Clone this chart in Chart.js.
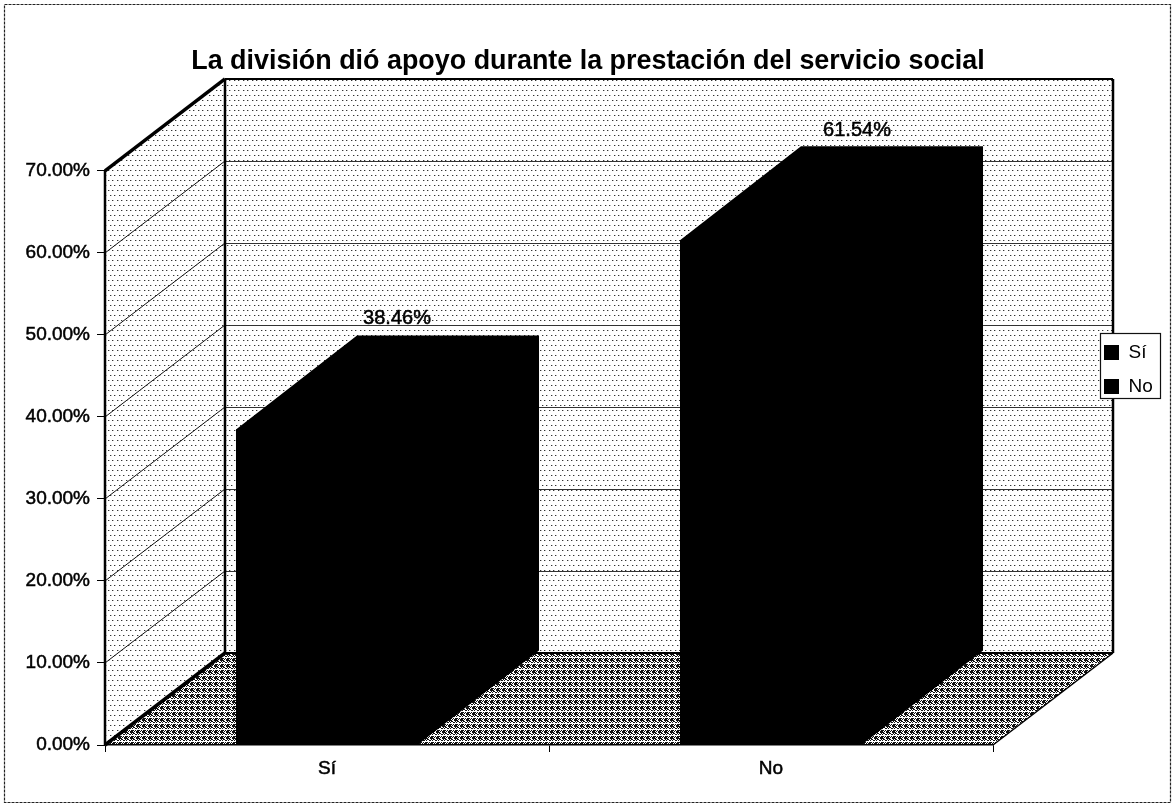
<!DOCTYPE html>
<html><head><meta charset="utf-8">
<style>html,body{margin:0;padding:0;background:#fff}#w{width:1173px;height:804px}</style>
<script src="https://cdn.jsdelivr.net/npm/chart.js@4"></script>
</head><body><div id="w"><canvas id="c" width="1173" height="804"></canvas></div>
<script>
const categories = ['Sí', 'No'];
const percentValues = [38.46, 61.54];
const chartTitle = 'La división dió apoyo durante la prestación del servicio social';
const FONT = '"Liberation Sans", Arial, sans-serif';
const wallDepth = {x: 120, y: -92};
const barDepth = {x: 121, y: -94};
const labelShift = [{x: 70, y: -111}, {x: 86, y: -110}];
const floorTile = ['XX..XX', '.XX..X', 'X..XX.', '......', 'XX.X.X', 'X.X.XX'];

function tile(w, h, draw) {
  const c = document.createElement('canvas'); c.width = w; c.height = h;
  draw(c.getContext('2d'));
  return c;
}
function poly(ctx, pts, fill, stroke, lw) {
  ctx.beginPath();
  pts.forEach((p, i) => i ? ctx.lineTo(p[0], p[1]) : ctx.moveTo(p[0], p[1]));
  ctx.closePath();
  if (fill) { ctx.fillStyle = fill; ctx.fill(); }
  if (stroke) { ctx.strokeStyle = stroke; ctx.lineWidth = lw; ctx.stroke(); }
}
function line(ctx, x1, y1, x2, y2, color, lw) {
  ctx.beginPath(); ctx.moveTo(x1, y1); ctx.lineTo(x2, y2);
  ctx.strokeStyle = color; ctx.lineWidth = lw; ctx.stroke();
}

const scene = {
  id: 'scene',
  afterLayout(chart) {
    const t = chart.titleBlock; t.left = 0; t.right = 1176;
    const l = chart.legend;
    l.left = 1089; l.right = 1161; l.top = 328; l.bottom = 560; l.width = 72; l.height = 232;
  },
  beforeDraw(chart) {
    const ctx = chart.ctx, a = chart.chartArea, y = chart.scales.y;
    const dx = wallDepth.x, dy = wallDepth.y;
    ctx.save();
    ctx.fillStyle = '#fff'; ctx.fillRect(0, 0, 1173, 804);
    const wall = ctx.createPattern(tile(9, 10, g => {
      g.fillStyle = '#fff'; g.fillRect(0, 0, 9, 10);
      g.fillStyle = '#333';
      [[0,0],[4,0],[2,5],[6,5]].forEach(p => g.fillRect(p[0], p[1], 1, 1));
      g.fillStyle = '#bbb';
      [[1,0],[5,0],[3,5],[7,5]].forEach(p => g.fillRect(p[0], p[1], 1, 1));
    }), 'repeat');
    const floor = ctx.createPattern(tile(6, 6, g => {
      g.fillStyle = '#fff'; g.fillRect(0, 0, 6, 6);
      g.fillStyle = '#111';
      floorTile.forEach((row, r) => [...row].forEach((ch, c) => { if (ch === 'X') g.fillRect(c, r, 1, 1); }));
    }), 'repeat');
    const L = a.left, R = a.right, T = a.top, B = a.bottom;
    poly(ctx, [[L+dx,T+dy],[R+dx,T+dy],[R+dx,B+dy],[L+dx,B+dy]], wall);
    poly(ctx, [[L,T],[L+dx,T+dy],[L+dx,B+dy],[L,B]], wall);
    poly(ctx, [[L,B],[L+dx,B+dy],[R+dx,B+dy],[R,B]], floor);
    y.ticks.forEach(tk => {
      const py = y.getPixelForValue(tk.value);
      line(ctx, L, py, L+dx, py+dy, '#111', 1);
      const gy = Math.round(py + dy) + 0.5;
      if (tk.value > 0 && tk.value < y.max) line(ctx, L+dx, gy, R+dx, gy, '#333', 1);
    });
    line(ctx, L, T, L+dx, T+dy, '#000', 3.5);
    line(ctx, L, B, L+dx, B+dy, '#000', 3.5);
    line(ctx, L, T, L, B, '#000', 2.5);
    line(ctx, L+dx, T+dy, L+dx, B+dy, '#000', 2.5);
    line(ctx, L+dx, T+dy, R+dx, T+dy, '#000', 2);
    line(ctx, R+dx, T+dy, R+dx, B+dy, '#000', 2.5);
    line(ctx, L+dx, B+dy, R+dx, B+dy, '#000', 2);
    line(ctx, R, B, R+dx, B+dy, '#000', 1.5);
    ctx.fillStyle = '#fff'; ctx.fillRect(1100, 333, 61, 66);
    ctx.strokeStyle = '#111'; ctx.lineWidth = 1.2; ctx.strokeRect(1100.5, 333.5, 60, 65);
    ctx.setLineDash([3, 1]); ctx.strokeStyle = '#222'; ctx.lineWidth = 1.2;
    ctx.strokeRect(4.5, 4.5, 1166, 798);
    ctx.restore();
  },
  beforeDatasetsDraw(chart) {
    const ctx = chart.ctx;
    chart.getDatasetMeta(0).data.forEach(b => {
      const l = b.x - b.width / 2, r = b.x + b.width / 2, dx = barDepth.x, dy = barDepth.y;
      poly(ctx, [[l, b.y + 2],[l, b.y],[l+dx, b.y+dy],[r+dx, b.y+dy],[r+dx, b.base+dy],[r, b.base],[r - 2, b.base],[r - 2, b.y + 2]], '#000');
    });
  },
  afterDatasetsDraw(chart) {
    const ctx = chart.ctx;
    ctx.save();
    ctx.font = '20px ' + FONT; ctx.fillStyle = '#000'; ctx.strokeStyle = '#000'; ctx.lineWidth = 0.5;
    ctx.textAlign = 'center'; ctx.textBaseline = 'middle';
    chart.getDatasetMeta(0).data.forEach((b, i) => {
      const s = percentValues[i].toFixed(2) + '%';
      ctx.fillText(s, b.x + labelShift[i].x, b.y + labelShift[i].y);
      ctx.strokeText(s, b.x + labelShift[i].x, b.y + labelShift[i].y);
    });
    ctx.restore();
  }
};

new Chart(document.getElementById('c'), {
  type: 'bar',
  data: {
    labels: categories,
    datasets: [{ label: 'Serie', data: percentValues, backgroundColor: '#000', borderWidth: 0,
                 barPercentage: 0.41, categoryPercentage: 1 }]
  },
  options: {
    responsive: false, animation: false, devicePixelRatio: 1,
    layout: { padding: { left: 0, top: 0, right: 180, bottom: 0 } },
    plugins: {
      tooltip: { enabled: false },
      title: { display: true, text: chartTitle, color: '#000',
               font: { family: FONT, size: 26.9, weight: 'bold' },
               padding: { top: 45, bottom: 93.7 } },
      legend: {
        display: true, position: 'chartArea', align: 'start',
        labels: {
          boxWidth: 15, boxHeight: 15, padding: 15, color: '#000',
          font: { family: FONT, size: 19 },
          generateLabels: () => categories.map((c, i) => ({
            text: c, fillStyle: '#000', strokeStyle: '#000', lineWidth: 0, hidden: false, index: i }))
        }
      }
    },
    scales: {
      x: {
        offset: true,
        afterFit: s => { s.height = 59; },
        grid: { offset: true, drawOnChartArea: false, tickLength: 7, color: '#000', tickColor: '#000' },
        border: { display: true, color: '#000', width: 1.5 },
        ticks: { color: '#000', padding: 5, textStrokeColor: '#000', textStrokeWidth: 0.5,
                 font: { family: FONT, size: 19 } }
      },
      y: {
        min: 0, max: 70,
        afterFit: s => { s.width = 105; },
        grid: { drawOnChartArea: false, tickLength: 8, color: '#000', tickColor: '#000' },
        border: { display: false },
        ticks: { stepSize: 10, color: '#000', padding: 7, textStrokeColor: '#000', textStrokeWidth: 0.5,
                 font: { family: FONT, size: 19 },
                 callback: v => v.toFixed(2) + '%' }
      }
    }
  },
  plugins: [scene]
});
</script></body></html>
